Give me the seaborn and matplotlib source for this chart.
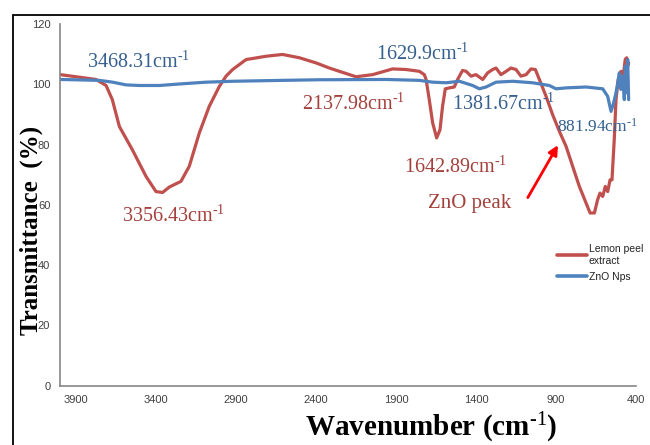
import numpy as np
import pandas as pd
import seaborn as sns
import matplotlib.pyplot as plt
from matplotlib.patches import Rectangle
from matplotlib.lines import Line2D

# ---- data ----
lemon_x = [3998, 3775, 3712, 3673, 3629, 3548, 3462, 3400, 3359, 3317, 3244, 3192, 3129, 3067,
           3004, 2962, 2921, 2837, 2712, 2609, 2504, 2400, 2317, 2254, 2150, 2046, 1921, 1837,
           1754, 1723, 1712, 1692, 1671, 1646, 1625, 1609, 1592, 1567, 1536, 1515, 1484, 1462,
           1431, 1400, 1358, 1327, 1296, 1275, 1244, 1212, 1181, 1150, 1119, 1087, 1056, 1029,
           1004, 962, 921, 879, 837, 796, 754, 712, 687, 660, 640, 625, 608, 592, 577, 562,
           550, 536, 525, 511, 494, 479, 467, 458, 452, 446]
lemon_y = [103.2, 101.6, 99.6, 94.9, 86.0, 78.3, 69.4, 64.4, 64.1, 65.9, 67.8, 72.8, 83.9, 92.7,
           99.3, 102.7, 104.9, 108.2, 109.3, 109.9, 108.8, 107.1, 105.4, 104.3, 102.5, 103.2, 105.1, 104.9,
           104.3, 103.2, 101.6, 94.9, 87.2, 82.2, 84.9, 92.7, 98.5, 98.8, 99.1, 101.6, 104.6, 104.3,
           102.7, 103.2, 101.6, 103.8, 104.9, 105.4, 103.2, 104.3, 105.4, 104.9, 102.7, 103.2, 105.1, 104.9,
           101.6, 96.0, 89.9, 84.4, 79.4, 72.8, 66.1, 60.6, 57.3, 57.3, 61.7, 63.9, 62.8, 66.1, 64.4, 68.3,
           68.3, 81.6, 94.9, 101.6, 104.3, 103.2, 108.3, 108.8, 106.0, 107.1]

zno_x = [3998, 3754, 3671, 3587, 3504, 3379, 3254, 3087, 2921, 2610, 2379, 1962, 1754, 1671,
         1587, 1504, 1421, 1379, 1337, 1275, 1171, 1046, 942, 900, 837, 712, 608, 577, 556,
         540, 525, 514, 504, 494, 483, 473, 467, 458, 452, 446]
zno_y = [101.6, 101.3, 100.7, 99.8, 99.6, 99.6, 100.1, 100.7, 101.0, 101.3, 101.5, 101.6, 101.3, 100.7,
         100.5, 101.0, 99.6, 98.5, 99.1, 100.7, 101.0, 100.5, 99.6, 98.5, 98.8, 99.1, 98.5, 96.0, 91.0,
         93.8, 97.2, 100.5, 103.8, 98.3, 102.7, 94.9, 106.0, 97.2, 108.2, 94.9]

series_names = ["Lemon peel\nextract", "ZnO Nps"]
x_ticks = [3900, 3400, 2900, 2400, 1900, 1400, 900, 400]
y_ticks = [0, 20, 40, 60, 80, 100, 120]

ann_red = [("3356.43", 3610, 54.3), ("2137.98", 2486, 91.6), ("1642.89", 1848, 70.7)]
ann_blue = [("3468.31", 3829, 105.4), ("1629.9", 2023, 108.2), ("1381.67", 1548, 91.6)]
ann_small = [("881.94", 892, 84.3)]

RED = "#C0504D"
BLUE = "#4F81BD"
RED_T = "#A3403C"
BLUE_T = "#35608F"

SUP = r"$^{\text{-1}}$"

df = pd.concat([
    pd.DataFrame({"x": lemon_x, "y": lemon_y, "s": series_names[0]}),
    pd.DataFrame({"x": zno_x, "y": zno_y, "s": series_names[1]}),
])

sns.set_style("white")
plt.rcParams["mathtext.fontset"] = "custom"
plt.rcParams["mathtext.rm"] = "Liberation Serif"
plt.rcParams["mathtext.it"] = "Liberation Serif:italic"
plt.rcParams["mathtext.bf"] = "Liberation Serif:bold"

fig = plt.figure(figsize=(6.5, 4.45), dpi=100)
ax = fig.add_axes([60 / 650, 1 - 385.7 / 445, 576 / 650, 361.7 / 445])

sns.lineplot(data=df, x="x", y="y", hue="s", palette=[RED, BLUE], linewidth=2.3,
             legend=False, ax=ax, estimator=None, sort=False)

ax.set_xlim(4000, 400)
ax.set_ylim(0, 120)
ax.set_xticks(x_ticks)
ax.set_yticks(y_ticks)
ax.tick_params(axis="both", labelsize=8, colors="#404040", length=3.5, width=1,
               direction="out", color="#868686")
for s in ["top", "right"]:
    ax.spines[s].set_visible(False)
for s in ["left", "bottom"]:
    ax.spines[s].set_color("#868686")
    ax.spines[s].set_linewidth(1.2)
for lab in ax.get_xticklabels() + ax.get_yticklabels():
    lab.set_family("Liberation Sans")

ax.set_xlabel("")
ax.set_ylabel("")
fig.text(31 / 650, 1 - 230 / 445, "Transmittance  (%)", rotation=90, ha="center", va="center",
         family="Liberation Serif", fontweight="bold", fontsize=18, color="black")
fig.text(431 / 650, 1 - 436 / 445, r"Wavenumber (cm$^{\text{-1}}$)", ha="center", va="baseline",
         family="Liberation Serif", fontweight="bold", fontsize=21, color="black")

for lbl, xx, yy in ann_red:
    ax.text(xx, yy, lbl + "cm" + SUP, color=RED_T, family="Liberation Serif", fontsize=14.5,
            ha="left", va="baseline")
for lbl, xx, yy in ann_blue:
    ax.text(xx, yy, lbl + "cm" + SUP, color=BLUE_T, family="Liberation Serif", fontsize=14.5,
            ha="left", va="baseline")
for lbl, xx, yy in ann_small:
    ax.text(xx, yy, lbl + "cm" + SUP, color=BLUE_T, family="Liberation Serif", fontsize=12.5,
            ha="left", va="baseline", clip_on=False)

ax.text(1698, 59.0, "ZnO peak", color=RED_T, family="Liberation Serif", fontsize=15,
        ha="left", va="baseline")
ax.annotate("", xy=(879, 80.6), xytext=(1085, 61.6),
            arrowprops=dict(arrowstyle="-|>", color="red", lw=2, mutation_scale=14))

handles = [Line2D([], [], color=RED, lw=2.6), Line2D([], [], color=BLUE, lw=2.6)]
leg = fig.legend(handles, series_names, loc="upper left", bbox_to_anchor=(557 / 650, 1 - 244 / 445),
                 frameon=False, prop={"family": "Liberation Sans", "size": 7.5},
                 handlelength=2.9, handletextpad=0.15, labelspacing=0.6, borderaxespad=0, borderpad=0)
for t in leg.get_texts():
    t.set_color("#222222")

fig.patches.append(Rectangle((13 / 650, -0.2), 1.2, 1.2 - 15 / 445,
                             transform=fig.transFigure, fill=False, edgecolor="black", lw=1.3,
                             clip_on=False))

fig.savefig("out.png", dpi=100)
